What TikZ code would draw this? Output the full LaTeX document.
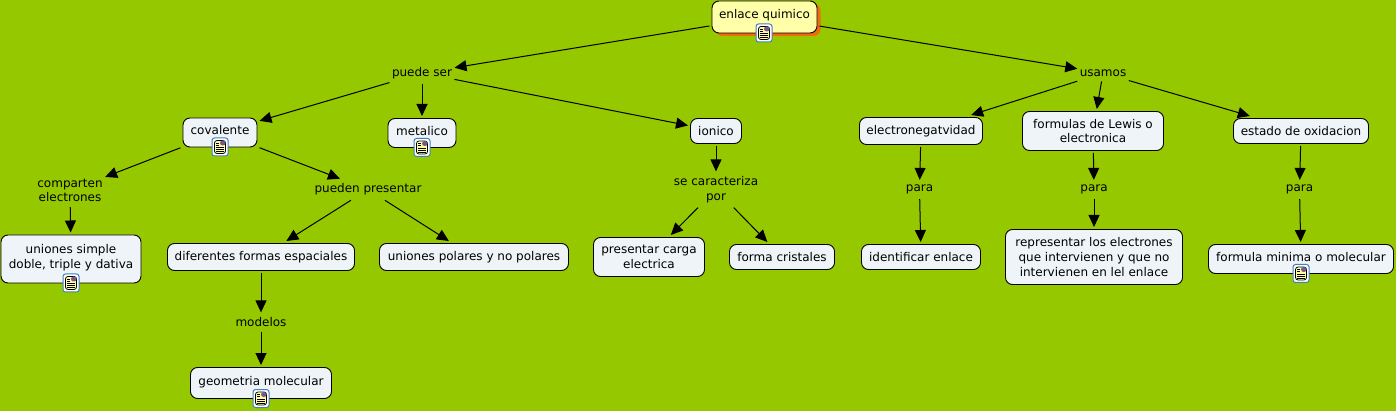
\documentclass[tikz,border=0pt]{standalone}
\usepackage{fontspec}
\setmainfont{DejaVu Sans}
\usetikzlibrary{arrows.meta,shadows}
\definecolor{mapGreen}{HTML}{96C800}
\definecolor{boxFill}{HTML}{EEF4F8}
\definecolor{rootFill}{HTML}{FFFFAA}
\definecolor{rootShadow}{HTML}{F26A10}
\definecolor{iconBlue}{HTML}{3F7FC4}
\begin{document}
\begin{tikzpicture}[
    x=1pt, y=-1pt,
    % Define the style for the concept boxes
    cNode/.style={
        rectangle,
        rounded corners=7pt,
        draw=black,
        fill=boxFill,
        line width=0.9pt,
        align=center,
        inner sep=0pt,
        outer sep=2.5pt,
        font=\fontsize{12}{14.6}\selectfont
    },
    % Boxes carrying an icon have their text a little higher
    cIconNode/.style={
        cNode,
        text depth=5pt
    },
    % Define the style for the linking phrases
    lNode/.style={
        align=center,
        inner xsep=1pt,
        inner ysep=3.5pt,
        outer sep=1.5pt,
        font=\fontsize{12}{14.6}\selectfont
    },
    % Define the style for the small document icons
    iconNode/.style={
        rectangle,
        rounded corners=2.5pt,
        draw=iconBlue,
        fill=white,
        line width=1pt,
        inner sep=0pt,
        minimum width=16pt,
        minimum height=18pt,
        path picture={
            \begin{scope}[shift={(path picture bounding box.center)}]
                \draw[black, fill=rootFill, line width=0.8pt] (-5.5,-6.5) rectangle (5.5,6.5);
                \fill[iconBlue!70!red] (0,-6.5) rectangle (5.5,-1.5);
                \foreach \ly in {-4,-2} {
                    \draw[black, line width=0.8pt] (-4,\ly) -- (-1,\ly);
                }
                \foreach \ly in {0.5,2.5,4.5} {
                    \draw[black, line width=0.8pt] (-4,\ly) -- (4,\ly);
                }
            \end{scope}
        }
    },
    % Define the style for the connections
    edgeStyle/.style={
        draw=black,
        line width=1pt,
        -{Triangle[length=12pt,width=11pt]}
    }
]

    % --- BACKGROUND ---
    \fill[mapGreen] (0,0) rectangle (1396,411);
    \useasboundingbox (0,0) rectangle (1396,411);

    % --- ROOT ---
    \node[cNode, fill=rootFill, text depth=7pt, minimum width=105pt, minimum height=32pt,
          drop shadow={shadow xshift=3.5pt, shadow yshift=-3pt, fill=rootShadow, opacity=1}]
          (enlace) at (764.5,17) {enlace quimico};

    % --- CONCEPTS ---
    \foreach \name/\cx/\cy/\w/\h/\txt in {
        ionico/716/131/51/25/{ionico},
        electroneg/921/131/123/27/{electronegatvidad},
        formulas/1093/131/141/39/{formulas de Lewis o\\electronica},
        estado/1301/131/135/25/{estado de oxidacion},
        diferentes/261/257/187/27/{diferentes formas espaciales},
        polares/474/257/189/27/{uniones polares y no polares},
        carga/649/257/111/39/{presentar carga\\electrica},
        cristales/782/257/105/25/{forma cristales},
        identificar/921/257/119/25/{identificar enlace},
        representar/1094/257/177/55/{representar los electrones\\que intervienen y que no\\intervienen en lel enlace}} {
        \node[cNode, minimum width=\w pt, minimum height=\h pt] (\name) at (\cx,\cy) {\txt};
    }

    % Concepts with an icon on the lower edge
    \foreach \name/\cx/\cy/\w/\h/\txt in {
        covalente/220/132.5/74/29/{covalente},
        metalico/422/133/68/29/{metalico},
        simple/71/259/140/48/{uniones simple\\doble, triple y dativa},
        geometria/261/383/141/31/{geometria molecular},
        minima/1301/259/185/29/{formula minima o molecular}} {
        \node[cIconNode, minimum width=\w pt, minimum height=\h pt] (\name) at (\cx,\cy) {\txt};
        \node[iconNode] (\name Icon) at ([yshift=2.5pt]\name.south) {};
    }
    \node[iconNode] (enlaceIcon) at (764,33) {};

    % --- LINKING PHRASES ---
    \foreach \name/\cx/\cy/\txt in {
        puedeSer/422/73/{puede ser},
        usamos/1103/73/{usamos},
        comparten/70/190.5/{comparten\\electrones},
        presentan/368/189.5/{pueden presentar},
        modelos/261/322/{modelos},
        caracteriza/716/189.5/{se caracteriza\\por},
        paraA/919.5/189.5/{para},
        paraB/1094/189.5/{para},
        paraC/1299.5/189.5/{para}} {
        \node[lNode] (\name) at (\cx,\cy) {\txt};
    }

    % --- EDGES ---
    \foreach \from/\to in {
        enlace/puedeSer, enlace/usamos,
        puedeSer/covalente, puedeSer/metalico, puedeSer/ionico,
        covalente/comparten, covalente/presentan,
        comparten/simple,
        presentan/diferentes, presentan/polares,
        diferentes/modelos, modelos/geometria,
        ionico/caracteriza, caracteriza/carga, caracteriza/cristales,
        usamos/electroneg, usamos/formulas, usamos/estado,
        electroneg/paraA, paraA/identificar,
        formulas/paraB, paraB/representar,
        estado/paraC, paraC/minima} {
        \draw[edgeStyle] (\from) -- (\to);
    }

\end{tikzpicture}
\end{document}
